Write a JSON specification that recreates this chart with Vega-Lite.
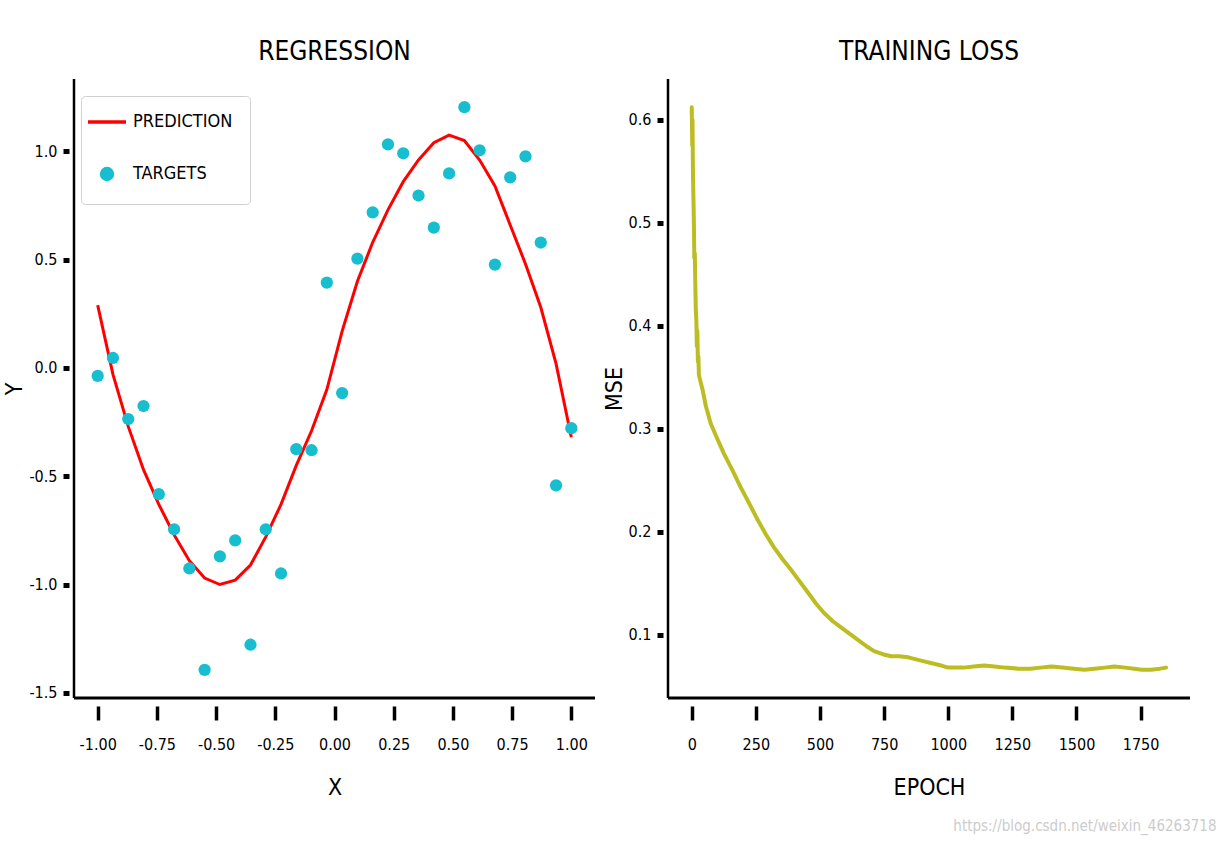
{
  "$schema": "https://vega.github.io/schema/vega-lite/v6.json",
  "background": "white",
  "padding": {"left": 3, "top": 38, "right": 10, "bottom": 4},
  "spacing": 6,
  "config": {
    "font": "DejaVu Sans Condensed, Liberation Sans Narrow, DejaVu Sans, sans-serif",
    "locale": {
      "number": {"decimal": ".", "thousands": ",", "grouping": [3], "currency": ["$", ""], "minus": "-"}
    },
    "view": {"stroke": null},
    "axis": {
      "grid": false,
      "domain": false,
      "tickColor": "black",
      "labelColor": "black",
      "titleColor": "black",
      "labelFontSize": 16,
      "titleFontSize": 23,
      "titleFontWeight": "normal"
    },
    "title": {"fontSize": 26, "fontWeight": "normal", "anchor": "middle", "offset": 13, "color": "black"},
    "legend": {
      "orient": "none",
      "legendX": 7,
      "legendY": 17,
      "padding": 17,
      "strokeColor": "#d0d0d0",
      "fillColor": "white",
      "cornerRadius": 4,
      "labelFontSize": 18,
      "labelColor": "black",
      "labelOffset": 17,
      "rowPadding": 30,
      "symbolStrokeWidth": 3
    }
  },
  "title": {
    "text": "https://blog.csdn.net/weixin_46263718",
    "orient": "bottom",
    "anchor": "end",
    "fontSize": 15,
    "fontWeight": "normal",
    "color": "#cccccc",
    "offset": 20,
    "dx": 25
  },
  "datasets": {
    "prediction": [
      {"x": -1.0000, "y": 0.29, "series": "PREDICTION"},
      {"x": -0.9355, "y": -0.03, "series": "PREDICTION"},
      {"x": -0.8710, "y": -0.27, "series": "PREDICTION"},
      {"x": -0.8065, "y": -0.47, "series": "PREDICTION"},
      {"x": -0.7419, "y": -0.63, "series": "PREDICTION"},
      {"x": -0.6774, "y": -0.77, "series": "PREDICTION"},
      {"x": -0.6129, "y": -0.89, "series": "PREDICTION"},
      {"x": -0.5484, "y": -0.97, "series": "PREDICTION"},
      {"x": -0.4839, "y": -1.00, "series": "PREDICTION"},
      {"x": -0.4194, "y": -0.98, "series": "PREDICTION"},
      {"x": -0.3548, "y": -0.91, "series": "PREDICTION"},
      {"x": -0.2903, "y": -0.78, "series": "PREDICTION"},
      {"x": -0.2258, "y": -0.63, "series": "PREDICTION"},
      {"x": -0.1613, "y": -0.45, "series": "PREDICTION"},
      {"x": -0.0968, "y": -0.29, "series": "PREDICTION"},
      {"x": -0.0323, "y": -0.10, "series": "PREDICTION"},
      {"x": 0.0323, "y": 0.17, "series": "PREDICTION"},
      {"x": 0.0968, "y": 0.40, "series": "PREDICTION"},
      {"x": 0.1613, "y": 0.58, "series": "PREDICTION"},
      {"x": 0.2258, "y": 0.73, "series": "PREDICTION"},
      {"x": 0.2903, "y": 0.86, "series": "PREDICTION"},
      {"x": 0.3548, "y": 0.96, "series": "PREDICTION"},
      {"x": 0.4194, "y": 1.04, "series": "PREDICTION"},
      {"x": 0.4839, "y": 1.075, "series": "PREDICTION"},
      {"x": 0.5484, "y": 1.05, "series": "PREDICTION"},
      {"x": 0.6129, "y": 0.96, "series": "PREDICTION"},
      {"x": 0.6774, "y": 0.84, "series": "PREDICTION"},
      {"x": 0.7419, "y": 0.66, "series": "PREDICTION"},
      {"x": 0.8065, "y": 0.48, "series": "PREDICTION"},
      {"x": 0.8710, "y": 0.28, "series": "PREDICTION"},
      {"x": 0.9355, "y": 0.02, "series": "PREDICTION"},
      {"x": 1.0000, "y": -0.32, "series": "PREDICTION"}
    ],
    "targets": [
      {"x": -1.0000, "y": -0.037, "series": "TARGETS"},
      {"x": -0.9355, "y": 0.046, "series": "TARGETS"},
      {"x": -0.8710, "y": -0.236, "series": "TARGETS"},
      {"x": -0.8065, "y": -0.176, "series": "TARGETS"},
      {"x": -0.7419, "y": -0.583, "series": "TARGETS"},
      {"x": -0.6774, "y": -0.745, "series": "TARGETS"},
      {"x": -0.6129, "y": -0.926, "series": "TARGETS"},
      {"x": -0.5484, "y": -1.394, "series": "TARGETS"},
      {"x": -0.4839, "y": -0.870, "series": "TARGETS"},
      {"x": -0.4194, "y": -0.796, "series": "TARGETS"},
      {"x": -0.3548, "y": -1.278, "series": "TARGETS"},
      {"x": -0.2903, "y": -0.745, "series": "TARGETS"},
      {"x": -0.2258, "y": -0.949, "series": "TARGETS"},
      {"x": -0.1613, "y": -0.375, "series": "TARGETS"},
      {"x": -0.0968, "y": -0.380, "series": "TARGETS"},
      {"x": -0.0323, "y": 0.394, "series": "TARGETS"},
      {"x": 0.0323, "y": -0.116, "series": "TARGETS"},
      {"x": 0.0968, "y": 0.505, "series": "TARGETS"},
      {"x": 0.1613, "y": 0.718, "series": "TARGETS"},
      {"x": 0.2258, "y": 1.032, "series": "TARGETS"},
      {"x": 0.2903, "y": 0.991, "series": "TARGETS"},
      {"x": 0.3548, "y": 0.796, "series": "TARGETS"},
      {"x": 0.4194, "y": 0.648, "series": "TARGETS"},
      {"x": 0.4839, "y": 0.898, "series": "TARGETS"},
      {"x": 0.5484, "y": 1.204, "series": "TARGETS"},
      {"x": 0.6129, "y": 1.005, "series": "TARGETS"},
      {"x": 0.6774, "y": 0.477, "series": "TARGETS"},
      {"x": 0.7419, "y": 0.880, "series": "TARGETS"},
      {"x": 0.8065, "y": 0.977, "series": "TARGETS"},
      {"x": 0.8710, "y": 0.579, "series": "TARGETS"},
      {"x": 0.9355, "y": -0.542, "series": "TARGETS"},
      {"x": 1.0000, "y": -0.278, "series": "TARGETS"}
    ],
    "loss": [
      {"epoch": 0, "mse": 0.612},
      {"epoch": 2, "mse": 0.575},
      {"epoch": 3, "mse": 0.600},
      {"epoch": 5, "mse": 0.545},
      {"epoch": 7, "mse": 0.520},
      {"epoch": 9, "mse": 0.490},
      {"epoch": 10, "mse": 0.466},
      {"epoch": 12, "mse": 0.470},
      {"epoch": 14, "mse": 0.440},
      {"epoch": 16, "mse": 0.415},
      {"epoch": 18, "mse": 0.405},
      {"epoch": 20, "mse": 0.380},
      {"epoch": 22, "mse": 0.395},
      {"epoch": 24, "mse": 0.365},
      {"epoch": 26, "mse": 0.370},
      {"epoch": 28, "mse": 0.352},
      {"epoch": 32, "mse": 0.348},
      {"epoch": 38, "mse": 0.342},
      {"epoch": 43, "mse": 0.337},
      {"epoch": 55, "mse": 0.322},
      {"epoch": 74, "mse": 0.305},
      {"epoch": 100, "mse": 0.290},
      {"epoch": 125, "mse": 0.276},
      {"epoch": 160, "mse": 0.259},
      {"epoch": 191, "mse": 0.243},
      {"epoch": 225, "mse": 0.227},
      {"epoch": 258, "mse": 0.211},
      {"epoch": 290, "mse": 0.197},
      {"epoch": 320, "mse": 0.185},
      {"epoch": 355, "mse": 0.173},
      {"epoch": 387, "mse": 0.163},
      {"epoch": 420, "mse": 0.152},
      {"epoch": 453, "mse": 0.141},
      {"epoch": 485, "mse": 0.130},
      {"epoch": 516, "mse": 0.121},
      {"epoch": 550, "mse": 0.113},
      {"epoch": 582, "mse": 0.107},
      {"epoch": 615, "mse": 0.101},
      {"epoch": 648, "mse": 0.095},
      {"epoch": 680, "mse": 0.089},
      {"epoch": 711, "mse": 0.084},
      {"epoch": 745, "mse": 0.081},
      {"epoch": 777, "mse": 0.079},
      {"epoch": 810, "mse": 0.079},
      {"epoch": 844, "mse": 0.078},
      {"epoch": 875, "mse": 0.076},
      {"epoch": 906, "mse": 0.074},
      {"epoch": 940, "mse": 0.072},
      {"epoch": 973, "mse": 0.070},
      {"epoch": 1000, "mse": 0.068},
      {"epoch": 1023, "mse": 0.068},
      {"epoch": 1060, "mse": 0.068},
      {"epoch": 1100, "mse": 0.069},
      {"epoch": 1140, "mse": 0.070},
      {"epoch": 1180, "mse": 0.069},
      {"epoch": 1220, "mse": 0.068},
      {"epoch": 1273, "mse": 0.067},
      {"epoch": 1320, "mse": 0.067},
      {"epoch": 1360, "mse": 0.068},
      {"epoch": 1402, "mse": 0.069},
      {"epoch": 1445, "mse": 0.068},
      {"epoch": 1490, "mse": 0.067},
      {"epoch": 1531, "mse": 0.066},
      {"epoch": 1570, "mse": 0.067},
      {"epoch": 1610, "mse": 0.068},
      {"epoch": 1648, "mse": 0.069},
      {"epoch": 1690, "mse": 0.068},
      {"epoch": 1725, "mse": 0.067},
      {"epoch": 1754, "mse": 0.066},
      {"epoch": 1790, "mse": 0.066},
      {"epoch": 1825, "mse": 0.067},
      {"epoch": 1849, "mse": 0.068}
    ]
  },
  "hconcat": [
    {
      "width": 521,
      "height": 619,
      "title": "REGRESSION",
      "layer": [
        {
          "data": {"values": [{}]},
          "mark": {"type": "rule", "color": "black", "strokeWidth": 2.5},
          "encoding": {
            "x": {
              "datum": -1.1, "type": "quantitative",
              "axis": {
                "title": "X",
                "values": [-1, -0.75, -0.5, -0.25, 0, 0.25, 0.5, 0.75, 1],
                "format": ".2f",
                "offset": 8, "tickSize": 14, "tickWidth": 3.5,
                "labelPadding": 16, "titlePadding": 24
              }
            }
          }
        },
        {
          "data": {"values": [{}]},
          "mark": {"type": "rule", "color": "black", "strokeWidth": 3},
          "encoding": {
            "y": {
              "datum": -1.524, "type": "quantitative",
              "axis": {
                "title": "Y",
                "values": [-1.5, -1, -0.5, 0, 0.5, 1],
                "format": ".1f",
                "offset": 5, "tickSize": 6, "tickWidth": 5,
                "labelPadding": 6, "titlePadding": 2
              }
            }
          }
        },
        {
          "data": {"name": "prediction"},
          "mark": {"type": "line", "strokeWidth": 3},
          "encoding": {
            "x": {
              "field": "x", "type": "quantitative",
              "scale": {"domain": [-1.1, 1.1], "nice": false, "zero": false},
              "axis": {
                "title": "X",
                "values": [-1, -0.75, -0.5, -0.25, 0, 0.25, 0.5, 0.75, 1],
                "format": ".2f",
                "offset": 8, "tickSize": 14, "tickWidth": 3.5,
                "labelPadding": 16, "titlePadding": 24
              }
            },
            "y": {
              "field": "y", "type": "quantitative",
              "scale": {"domain": [-1.524, 1.334], "nice": false, "zero": false},
              "axis": {
                "title": "Y",
                "values": [-1.5, -1, -0.5, 0, 0.5, 1],
                "format": ".1f",
                "offset": 5, "tickSize": 6, "tickWidth": 5,
                "labelPadding": 6, "titlePadding": 2
              }
            },
            "color": {
              "field": "series", "type": "nominal",
              "scale": {"domain": ["PREDICTION", "TARGETS"], "range": ["#ff0000", "#17becf"]},
              "legend": {
                "title": null,
                "encode": {
                  "symbols": {
                    "update": {
                      "stroke": {"scale": "color", "field": "value"},
                      "strokeWidth": {"value": 3.5},
                      "size": {"signal": "datum.value === 'PREDICTION' ? 1444 : 120"}
                    }
                  }
                }
              }
            }
          }
        },
        {
          "data": {"name": "targets"},
          "mark": {"type": "point", "filled": true, "size": 150, "opacity": 1},
          "encoding": {
            "x": {"field": "x", "type": "quantitative"},
            "y": {"field": "y", "type": "quantitative"},
            "color": {"field": "series", "type": "nominal"},
            "shape": {
              "field": "series", "type": "nominal",
              "scale": {"domain": ["PREDICTION", "TARGETS"], "range": ["stroke", "circle"]},
              "legend": {
                "title": null,
                "encode": {
                  "symbols": {
                    "update": {
                      "stroke": {"scale": "color", "field": "value"},
                      "strokeWidth": {"value": 3.5},
                      "size": {"signal": "datum.value === 'PREDICTION' ? 1444 : 120"}
                    }
                  }
                }
              }
            }
          }
        }
      ]
    },
    {
      "width": 522,
      "height": 619,
      "title": "TRAINING LOSS",
      "layer": [
        {
          "data": {"values": [{}]},
          "mark": {"type": "rule", "color": "black", "strokeWidth": 2.5},
          "encoding": {
            "x": {
              "datum": -92.5, "type": "quantitative",
              "axis": {
                "title": "EPOCH",
                "values": [0, 250, 500, 750, 1000, 1250, 1500, 1750],
                "format": "d",
                "offset": 8, "tickSize": 14, "tickWidth": 3.5,
                "labelPadding": 16, "titlePadding": 24
              }
            }
          }
        },
        {
          "data": {"values": [{}]},
          "mark": {"type": "rule", "color": "black", "strokeWidth": 3},
          "encoding": {
            "y": {
              "datum": 0.0385, "type": "quantitative",
              "axis": {
                "title": "MSE",
                "values": [0.1, 0.2, 0.3, 0.4, 0.5, 0.6],
                "format": ".1f",
                "offset": 5, "tickSize": 6, "tickWidth": 5,
                "labelPadding": 6, "titlePadding": 2
              }
            }
          }
        },
        {
          "data": {"name": "loss"},
          "mark": {"type": "line", "color": "#bcbd22", "strokeWidth": 4, "strokeJoin": "round", "strokeCap": "round"},
          "encoding": {
            "x": {
              "field": "epoch", "type": "quantitative",
              "scale": {"domain": [-92.5, 1942.5], "nice": false, "zero": false},
              "axis": {
                "title": "EPOCH",
                "values": [0, 250, 500, 750, 1000, 1250, 1500, 1750],
                "format": "d",
                "offset": 8, "tickSize": 14, "tickWidth": 3.5,
                "labelPadding": 16, "titlePadding": 24
              }
            },
            "y": {
              "field": "mse", "type": "quantitative",
              "scale": {"domain": [0.0385, 0.6395], "nice": false, "zero": false},
              "axis": {
                "title": "MSE",
                "values": [0.1, 0.2, 0.3, 0.4, 0.5, 0.6],
                "format": ".1f",
                "offset": 5, "tickSize": 6, "tickWidth": 5,
                "labelPadding": 6, "titlePadding": 2
              }
            }
          }
        }
      ]
    }
  ]
}
